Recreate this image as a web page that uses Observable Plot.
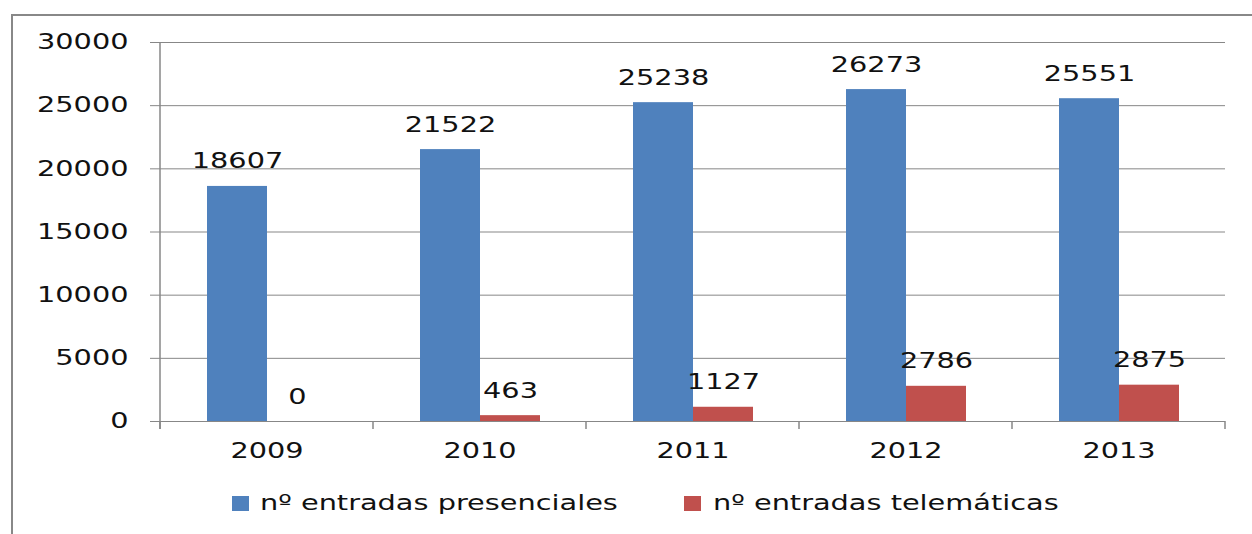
<!DOCTYPE html>
<html>
<head>
<meta charset="utf-8">
<script src="https://cdn.jsdelivr.net/npm/d3@7"></script>
<script src="https://cdn.jsdelivr.net/npm/@observablehq/plot@0.6"></script>
<style>
  html, body { margin: 0; padding: 0; background: #fff; }
  #wrap { position: relative; width: 1252px; height: 534px; overflow: hidden; font-family: "DejaVu Sans", sans-serif; }
  #border { position: absolute; left: 11px; top: 14px; width: 1300px; height: 600px; border-left: 2px solid #888; border-top: 2px solid #888; }
  #chart { position: absolute; left: 0; top: 0; }
  .leg { position: absolute; font-size: 21px; line-height: 21px; color: #111; white-space: nowrap; transform: scaleX(1.37); transform-origin: 0 0; }
  .sw { position: absolute; width: 17px; height: 15px; }
</style>
</head>
<body>
<div id="wrap">
  <div id="border"></div>
  <div id="chart"></div>
  <div id="legend"></div>
</div>
<script>
const years = ["2009", "2010", "2011", "2012", "2013"];
const seriesNames = ["nº entradas presenciales", "nº entradas telemáticas"];
const presenciales = [18607, 21522, 25238, 26273, 25551];
const telematicas = [0, 463, 1127, 2786, 2875];
const yTicks = [0, 5000, 10000, 15000, 20000, 25000, 30000];
const colors = ["#4F81BD", "#C0504D"];

const data = [];
years.forEach((y, i) => {
  data.push({year: y, series: seriesNames[0], value: presenciales[i]});
  data.push({year: y, series: seriesNames[1], value: telematicas[i]});
});

const plot = Plot.plot({
  width: 1252,
  height: 470,
  marginLeft: 159,
  marginRight: 26,
  marginTop: 42,
  marginBottom: 49,
  style: {background: "transparent", fontFamily: "DejaVu Sans", fontSize: "21px", color: "#111", overflow: "visible"},
  fx: {domain: years, padding: 0, label: null, axis: null},
  x: {domain: seriesNames, paddingInner: 0, paddingOuter: 0.75, axis: null},
  y: {domain: [0, 30000], ticks: yTicks, label: null, axis: null},
  color: {domain: seriesNames, range: colors},
  marks: [
    Plot.gridY(yTicks, {stroke: "#878787", strokeOpacity: 1, strokeWidth: 1}),
    Plot.axisY({ticks: yTicks, tickSize: 10, tickPadding: 22, stroke: "#878787", strokeOpacity: 1, fontSize: 21, tickFormat: d => String(d), label: null, facetAnchor: "left"}),
    Plot.axisFx({anchor: "bottom", tickSize: 0, tickPadding: 22, fontSize: 21, label: null}),
    Plot.barY(data, {fx: "year", x: "series", y: "value", fill: "series"}),
    Plot.ruleY([0], {stroke: "#878787", strokeWidth: 1}),
    Plot.text(data, {fx: "year", x: "series", y: "value", text: d => String(d.value), lineAnchor: "bottom", dy: -18, fontSize: 21, fill: "#111"})
  ]
});

document.getElementById("chart").appendChild(plot);

// stretch the text horizontally around each label's own anchor (wide, Verdana-like look)
d3.select(plot).selectAll("text").each(function() {
  const el = d3.select(this);
  const t = el.attr("transform") || "";
  el.attr("transform", `${t} scale(1.37,1)`);
});

// y-axis line and category boundary ticks, positioned from the plot's own scales
const fx = plot.scale("fx");
const ys = plot.scale("y");
const svg = d3.select(plot);
const y0 = ys.apply(0), yTop = ys.apply(30000);
const bounds = years.map(y => fx.apply(y));
bounds.push(bounds[bounds.length - 1] + fx.bandwidth);
const g = svg.append("g").attr("stroke", "#878787").attr("stroke-width", 1.5);
g.append("line").attr("x1", bounds[0]).attr("x2", bounds[0]).attr("y1", yTop).attr("y2", y0 + 8);
bounds.forEach(b => {
  g.append("line").attr("x1", b).attr("x2", b).attr("y1", y0).attr("y2", y0 + 8);
});

// legend
const legend = d3.select("#legend");
const legPos = [{sw: 232, tx: 260}, {sw: 684, tx: 713}];
seriesNames.forEach((s, i) => {
  legend.append("div").attr("class", "sw").style("left", legPos[i].sw + "px").style("top", "496px").style("background", colors[i]);
  legend.append("div").attr("class", "leg").style("left", legPos[i].tx + "px").style("top", "493px").text(s);
});
</script>
</body>
</html>
